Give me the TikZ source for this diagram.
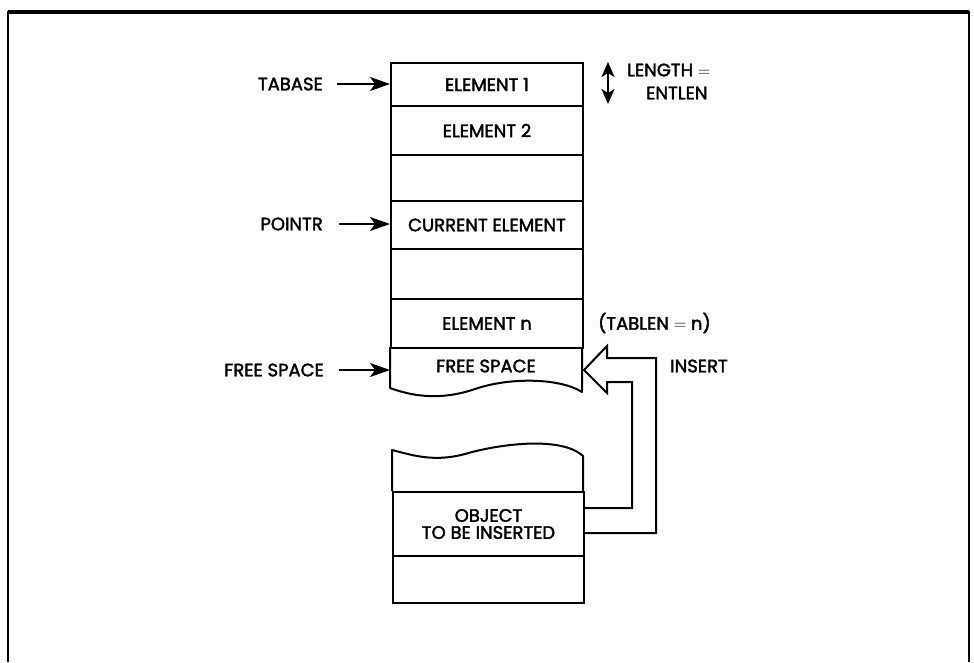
\documentclass[tikz,border=0pt]{standalone}
\usepackage{fontspec}
\setmainfont{Poppins}[FakeBold=2]
\usetikzlibrary{arrows.meta}
\begin{document}
\begin{tikzpicture}[x=1pt,y=-1pt,
  every node/.style={font=\fontsize{18}{18}\selectfont, inner sep=0pt},
  cell/.style={draw, line width=2pt, minimum width=192pt, anchor=north west},
  ptr/.style={line width=2pt, -{Stealth[length=20pt,width=14pt,inset=5pt]}},
  edge/.style={line width=2pt}]
\useasboundingbox (0,0) rectangle (974,662);
% frame
\draw[line width=2pt] (8,662) -- (8,12) -- (969,12) -- (969,662);
\draw[line width=3.5pt] (8,12) -- (969,12);
% main stack
\node[cell, minimum height=43pt] (e1) at (390,62) {ELEMENT 1};
\node[cell, minimum height=49pt] (e2) at (390,105) {ELEMENT 2};
\node[cell, minimum height=46pt] (b1) at (390,154) {};
\node[cell, minimum height=48pt] (cur) at (390,200) {CURRENT ELEMENT};
\node[cell, minimum height=50pt] (b2) at (390,248) {};
\node[cell, minimum height=49pt] (en) at (390,298) {ELEMENT n};
% free space cell
\draw[edge, line join=round] (390,347) -- (390,388) .. controls (412,396) and (440,401) .. (475,389)
  .. controls (510,377) and (560,378) .. (582,392) -- (582,347);
\node (fs) at (486,366) {FREE SPACE};
\coordinate (fsl) at (390,370);
\coordinate (tip) at (584,370);
% left labels
\node[anchor=east] (tabase) at (323,84) {TABASE};
\node[anchor=east] (pointr) at (323,224) {POINTR};
\node[anchor=east] (fslab) at (324,370) {FREE SPACE};
\draw[ptr] (tabase.east) ++(14,0) -- (tabase.east -| e1.west);
\draw[ptr] (pointr.east) ++(16,0) -- (pointr.east -| cur.west);
\draw[ptr] (fslab.east) ++(15,0) -- (fsl);
% length
\draw[line width=2.5pt, {Stealth[length=15pt,width=13pt,inset=4pt]}-{Stealth[length=15pt,width=13pt,inset=4pt]}] (608,62) -- (608,104);
\node[anchor=west] (len) at (627,70) {LENGTH $=$};
\node[anchor=west] (entlen) at (646,93) {ENTLEN};
\node[anchor=west] (tablen) at (598,323) {(TABLEN $=$ n)};
\node[anchor=west] (ins) at (670,366) {INSERT};
% object stack
\draw[edge, line join=round] (392,491) -- (392,450) .. controls (415,456) and (435,462) .. (465,454)
  .. controls (495,445) and (560,435) .. (583,456) -- (583,491);
\node[cell, minimum height=64pt, minimum width=191pt] (obj) at (392,491) {};
\node[align=center, font=\fontsize{18}{17}\selectfont] at (obj.center) {OBJECT\\TO BE INSERTED};
\node[cell, minimum height=47pt, minimum width=191pt] (ob) at (392,555) {};
% hollow insert arrow
\draw[edge, line join=miter] (obj.east |- 0,533) -- (656,533) -- (656,358) -- (607,358) -- (607,346) -- (tip)
  -- (607,393) -- (607,382) -- (632,382) -- (632,508) -- (obj.east |- 0,508);
\end{tikzpicture}
\end{document}
